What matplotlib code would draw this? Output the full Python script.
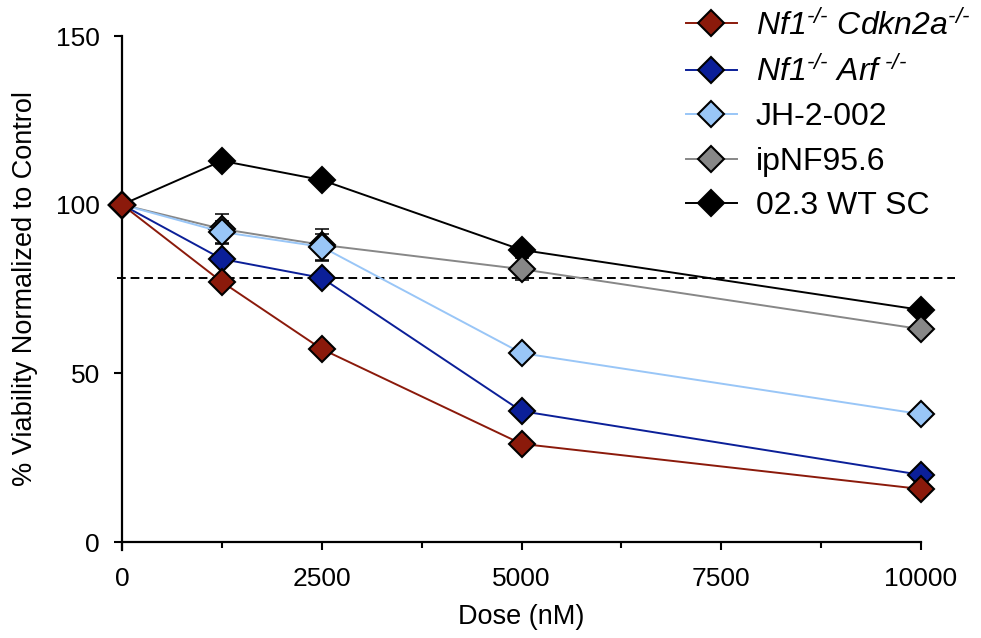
import matplotlib
matplotlib.use("Agg")
import matplotlib.pyplot as plt
from matplotlib.ticker import MultipleLocator

plt.rcParams['font.family'] = ['Liberation Sans', 'DejaVu Sans']
plt.rcParams['mathtext.fontset'] = 'custom'
plt.rcParams['mathtext.rm'] = 'Liberation Sans:italic'
plt.rcParams['mathtext.it'] = 'Liberation Sans:italic'
plt.rcParams['mathtext.fallback'] = 'stixsans'

doses = [0, 1250, 2500, 5000, 10000]
cdkn2a = [100, 77.1, 57.2, 29.1, 15.7]
arf = [100, 83.9, 78.3, 38.8, 19.9]
jh2002 = [100, 91.9, 87.5, 56.0, 37.9]
jh2002_err = [0, 3.3, 3.9, 0, 0]
ipnf = [100, 92.8, 88.1, 80.9, 63.1]
ipnf_err = [0, 4.4, 4.7, 3.2, 0]
wt = [100, 113.0, 107.3, 86.6, 68.8]
threshold = 78.3

labels = ["Nf1$^{\u2010/\u2010}$ Cdkn2a$^{\u2010/\u2010}$",
          "Nf1$^{\u2010/\u2010}$ Arf$^{\\ \u2010/\u2010}$",
          "JH-2-002", "ipNF95.6", "02.3 WT SC"]
italic = [True, True, False, False, False]
colors = ["#8B1A0B", "#0B1F98", "#99C6F7", "#878787", "#000000"]

fig = plt.figure(figsize=(9.81, 6.38), dpi=100)
ax = fig.add_axes([122/981, 1-542/638, (921-122)/981, (542-36)/638])

# dashed threshold line
ax.plot([-60, 10420], [threshold, threshold], color='black', lw=1.4,
        dashes=(4.5, 2.5), clip_on=False, zorder=1)

series = [(cdkn2a, None), (arf, None), (jh2002, jh2002_err), (ipnf, ipnf_err), (wt, None)]
order = [4, 3, 2, 1, 0]
handles = [None]*5
for i in order:
    vals, err = series[i]
    if err is not None:
        ax.errorbar(doses, vals, yerr=err, fmt='none', ecolor='black',
                    elinewidth=1.1, capsize=5, capthick=1.1, zorder=2+i*0.1, clip_on=False)
    h, = ax.plot(doses, vals, color=colors[i], lw=1.4, marker='D', markersize=13,
                 markerfacecolor=colors[i], markeredgecolor='black', markeredgewidth=1.5,
                 clip_on=False, zorder=3+(4-i)*0.1 if i != 0 else 3.6, label=labels[i])
    handles[i] = h

ax.set_xlim(0, 10000)
ax.set_ylim(0, 150)
ax.set_xticks([0, 2500, 5000, 7500, 10000])
ax.xaxis.set_minor_locator(MultipleLocator(1250))
ax.set_yticks([0, 50, 100, 150])

for s in ['top', 'right']:
    ax.spines[s].set_visible(False)
for s in ['left', 'bottom']:
    ax.spines[s].set_linewidth(1.6)
ax.spines['left'].set_bounds(-2.4, 150)

ax.tick_params(axis='both', which='major', length=6, width=1.5, labelsize=19)
ax.tick_params(axis='x', which='major', pad=12)
ax.tick_params(axis='y', which='major', pad=10)
ax.tick_params(axis='x', which='minor', length=4, width=1.5)

ax.set_xlabel("Dose (nM)", fontsize=19.5, labelpad=9)
ax.set_ylabel("% Viability Normalized to Control", fontsize=19.5, labelpad=13)

leg = fig.legend(handles=handles, labels=labels, loc='upper left',
                 bbox_to_anchor=(657/981, 1.03), frameon=False, fontsize=23,
                 handlelength=1.6, handletextpad=0.6, labelspacing=0.45)
for t, it in zip(leg.get_texts(), italic):
    if it:
        t.set_fontstyle('italic')

fig.savefig("out.png", dpi=100)
